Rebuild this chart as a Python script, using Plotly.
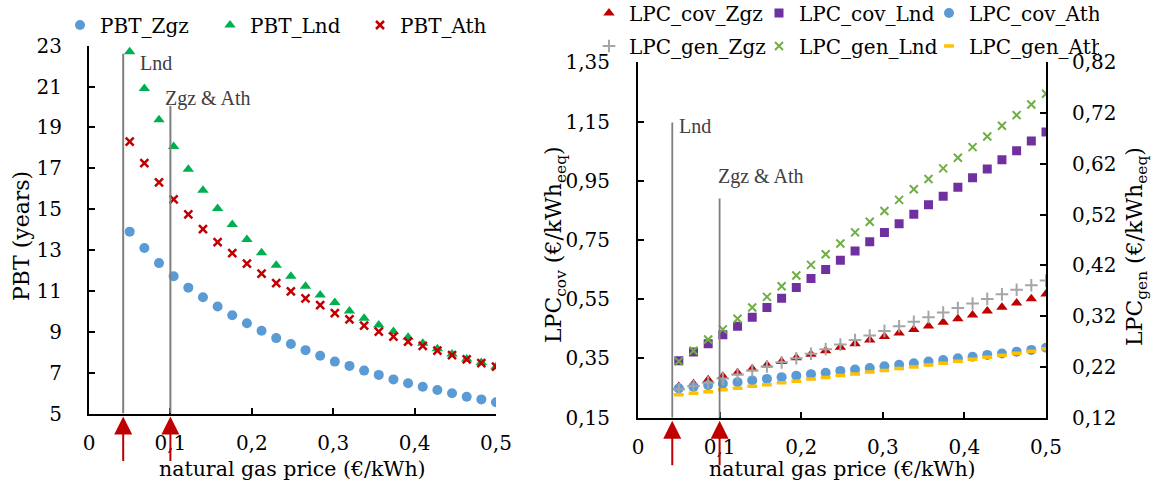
import plotly.graph_objects as go

# ---------------- data ----------------
price = [0.05, 0.068, 0.086, 0.104, 0.122, 0.14, 0.158, 0.176, 0.194, 0.212, 0.23, 0.248, 0.266,
         0.284, 0.302, 0.32, 0.338, 0.356, 0.374, 0.392, 0.41, 0.428, 0.446, 0.464, 0.482, 0.5]

pbt_zgz = [13.9, 13.1, 12.36, 11.72, 11.16, 10.69, 10.24, 9.81, 9.42, 9.05, 8.69, 8.4, 8.1,
           7.83, 7.54, 7.33, 7.1, 6.89, 6.67, 6.48, 6.31, 6.15, 5.99, 5.82, 5.69, 5.55]
pbt_lnd = [22.7, 20.9, 19.38, 18.07, 16.95, 15.93, 15.03, 14.25, 13.51, 12.87, 12.25, 11.72, 11.23,
           10.8, 10.43, 10.02, 9.66, 9.33, 9.01, 8.73, 8.44, 8.17, 7.91, 7.67, 7.49, 7.29]
pbt_ath = [18.3, 17.25, 16.31, 15.48, 14.74, 14.02, 13.39, 12.85, 12.33, 11.84, 11.38, 10.98, 10.64,
           10.3, 9.91, 9.61, 9.3, 9.01, 8.76, 8.52, 8.31, 8.08, 7.86, 7.65, 7.46, 7.29]

lpc_cov_zgz = [0.255, 0.265, 0.278, 0.29, 0.302, 0.315, 0.328, 0.34, 0.352, 0.364, 0.376, 0.388, 0.4,
               0.412, 0.424, 0.436, 0.448, 0.46, 0.472, 0.484, 0.497, 0.51, 0.523, 0.537, 0.552, 0.568]
lpc_cov_lnd = [0.342, 0.372, 0.40, 0.43, 0.459, 0.489, 0.522, 0.553, 0.59, 0.62, 0.65, 0.682, 0.713,
               0.744, 0.775, 0.805, 0.837, 0.869, 0.898, 0.928, 0.96, 0.99, 1.021, 1.051, 1.084, 1.115]
lpc_cov_ath = [0.249, 0.254, 0.26, 0.265, 0.27, 0.276, 0.281, 0.287, 0.292, 0.297, 0.302, 0.308, 0.313,
               0.318, 0.324, 0.329, 0.334, 0.34, 0.345, 0.351, 0.356, 0.362, 0.367, 0.373, 0.379, 0.386]
lpc_gen_zgz = [0.176, 0.182, 0.189, 0.197, 0.205, 0.213, 0.221, 0.229, 0.237, 0.246, 0.255, 0.264, 0.273,
               0.282, 0.291, 0.3, 0.309, 0.318, 0.327, 0.336, 0.345, 0.354, 0.363, 0.372, 0.381, 0.39]
lpc_gen_lnd = [0.231, 0.252, 0.274, 0.294, 0.315, 0.337, 0.358, 0.379, 0.40, 0.421, 0.442, 0.463, 0.485,
               0.506, 0.527, 0.549, 0.57, 0.59, 0.611, 0.632, 0.653, 0.674, 0.695, 0.716, 0.737, 0.758]
lpc_gen_ath = [0.165, 0.168, 0.171, 0.175, 0.178, 0.182, 0.185, 0.189, 0.192, 0.196, 0.199, 0.203, 0.206,
               0.21, 0.213, 0.217, 0.22, 0.224, 0.227, 0.231, 0.235, 0.239, 0.243, 0.247, 0.251, 0.256]

# reference gas prices (Lnd, Zgz & Ath) and the heights of their marker lines
ref_labels = ["Lnd", "Zgz & Ath"]
ref_prices = [0.042, 0.1]
ref_top_pbt = [22.6, 20.05]
ref_top_lpc = [1.147, 0.89]

# ---------------- layout geometry (pixels) ----------------
W, H = 1153, 486
L_X0, L_X1, L_YT, L_YB = 89, 496, 45.7, 413.5
R_X0, R_X1, R_YT, R_YB = 638, 1046, 62.3, 417.7

def px(x):
    return x / W

def py(y):
    return 1 - y / H

FONT = "DejaVu Serif"
FS = 20
BLACK = "#000000"

fig = go.Figure()

# left chart
fig.add_trace(go.Scatter(x=price, y=pbt_zgz, mode="markers", name="PBT_Zgz",
                         marker=dict(symbol="circle", size=10, color="#5B9BD5"),
                         xaxis="x", yaxis="y", legend="legend"))
fig.add_trace(go.Scatter(x=price, y=pbt_lnd, mode="markers", name="PBT_Lnd",
                         marker=dict(symbol="triangle-up", size=10, color="#00B050"),
                         xaxis="x", yaxis="y", legend="legend"))
fig.add_trace(go.Scatter(x=price, y=pbt_ath, mode="markers", name="PBT_Ath",
                         marker=dict(symbol="x-thin", size=8, color="#C00000",
                                     line=dict(width=2.5, color="#C00000")),
                         xaxis="x", yaxis="y", legend="legend"))

# right chart, primary axis
fig.add_trace(go.Scatter(x=price, y=lpc_cov_zgz, mode="markers", name="LPC_cov_Zgz",
                         marker=dict(symbol="triangle-up", size=10, color="#C00000"),
                         xaxis="x2", yaxis="y2", legend="legend2"))
fig.add_trace(go.Scatter(x=price, y=lpc_cov_lnd, mode="markers", name="LPC_cov_Lnd",
                         marker=dict(symbol="square", size=9, color="#7030A0"),
                         xaxis="x2", yaxis="y2", legend="legend2"))
fig.add_trace(go.Scatter(x=price, y=lpc_cov_ath, mode="markers", name="LPC_cov_Ath",
                         marker=dict(symbol="circle", size=10, color="#5B9BD5"),
                         xaxis="x2", yaxis="y2", legend="legend2"))
# right chart, secondary axis
fig.add_trace(go.Scatter(x=price, y=lpc_gen_zgz, mode="markers", name="LPC_gen_Zgz",
                         marker=dict(symbol="cross-thin", size=9, color="#A5A5A5",
                                     line=dict(width=2, color="#A5A5A5")),
                         xaxis="x2", yaxis="y3", legend="legend3"))
fig.add_trace(go.Scatter(x=price, y=lpc_gen_lnd, mode="markers", name="LPC_gen_Lnd",
                         marker=dict(symbol="x-thin", size=8, color="#70AD47",
                                     line=dict(width=2, color="#70AD47")),
                         xaxis="x2", yaxis="y3", legend="legend3"))
fig.add_trace(go.Scatter(x=price, y=lpc_gen_ath, mode="markers", name="LPC_gen_Ath",
                         marker=dict(symbol="line-ew", size=7, color="#FFC000",
                                     line=dict(width=3.5, color="#FFC000")),
                         xaxis="x2", yaxis="y3", legend="legend3"))

axis_common = dict(showline=True, linecolor=BLACK, linewidth=2, ticks="inside", ticklen=6,
                   tickwidth=2, tickcolor=BLACK, showgrid=False, zeroline=False,
                   automargin=False,
                   tickfont=dict(family=FONT, size=FS, color=BLACK))

legend_common = dict(orientation="h", xanchor="left", yanchor="middle",
                     entrywidthmode="pixels", bgcolor="rgba(0,0,0,0)",
                     font=dict(family=FONT, size=FS, color=BLACK))

fig.update_layout(
    width=W, height=H, autosize=False,
    margin=dict(l=0, r=0, t=0, b=0, pad=0, autoexpand=False),
    paper_bgcolor="white", plot_bgcolor="white",
    separators=", ",
    font=dict(family=FONT, size=FS, color=BLACK),
    xaxis=dict(domain=[px(L_X0), px(L_X1)], range=[0, 0.5], dtick=0.1, tick0=0,
               anchor="y", ticklabelstandoff=10, **axis_common),
    yaxis=dict(domain=[py(L_YB), py(L_YT)], range=[5, 23], dtick=2, tick0=5,
               anchor="x", ticklabelstandoff=21, **axis_common),
    xaxis2=dict(domain=[px(R_X0), px(R_X1)], range=[0, 0.5], dtick=0.1, tick0=0,
                anchor="y2", ticklabelstandoff=10, **axis_common),
    yaxis2=dict(domain=[py(R_YB), py(R_YT)], range=[0.15, 1.35], dtick=0.2, tick0=0.15,
                tickformat=".2f", anchor="x2", ticklabelstandoff=22, **axis_common),
    yaxis3=dict(range=[0.12, 0.82], dtick=0.1, tick0=0.12, tickformat=".2f",
                overlaying="y2", side="right", anchor="x2", ticklabelstandoff=20, **axis_common),
    legend=dict(x=px(60), y=py(25), entrywidth=105, **legend_common),
    legend2=dict(x=px(589), y=py(13), entrywidth=125, **legend_common),
    legend3=dict(x=px(589), y=py(46), entrywidth=125, **legend_common),
)

# reference price lines
for p, tp, tr in zip(ref_prices, ref_top_pbt, ref_top_lpc):
    fig.add_shape(type="line", xref="x", yref="y", x0=p, x1=p, y0=5, y1=tp,
                  line=dict(color="#7F7F7F", width=2))
    fig.add_shape(type="line", xref="x2", yref="y2", x0=p, x1=p, y0=0.15, y1=tr,
                  line=dict(color="#7F7F7F", width=1.8))

LBL_FONT = dict(family="Liberation Serif", size=20, color="#404040")
# labels on the left chart
fig.add_annotation(x=ref_prices[0], y=ref_top_pbt[0], xref="x", yref="y", text=ref_labels[0],
                   showarrow=False, xanchor="left", yanchor="middle", xshift=15, yshift=-9,
                   font=LBL_FONT)
fig.add_annotation(x=ref_prices[1], y=ref_top_pbt[1], xref="x", yref="y", text=ref_labels[1],
                   showarrow=False, xanchor="left", yanchor="middle", xshift=-7, yshift=7,
                   font=LBL_FONT)
# labels on the right chart
fig.add_annotation(x=ref_prices[0], y=ref_top_lpc[0], xref="x2", yref="y2", text=ref_labels[0],
                   showarrow=False, xanchor="left", yanchor="middle", xshift=5, yshift=-4,
                   font=LBL_FONT)
fig.add_annotation(x=ref_prices[1], y=ref_top_lpc[1], xref="x2", yref="y2", text=ref_labels[1],
                   showarrow=False, xanchor="left", yanchor="middle", xshift=-4, yshift=22,
                   font=LBL_FONT)

# red arrows under the axes
for p in ref_prices:
    for xr, yr, y0 in (("x", "y", 5), ("x2", "y2", 0.15)):
        fig.add_annotation(x=p, y=y0, xref=xr, yref=yr, text="", showarrow=True,
                           ax=0, ay=49, axref="pixel", ayref="pixel", standoff=3,
                           arrowhead=2, arrowsize=1.8, arrowwidth=2, arrowcolor="#C00000")

# axis titles
XT_FONT = dict(family=FONT, size=20.5, color=BLACK)
YT_FONT = dict(family=FONT, size=22, color=BLACK)
fig.add_annotation(x=px((L_X0 + L_X1) / 2), y=py(469), xref="paper", yref="paper",
                   text="natural gas price (€/kWh)", showarrow=False, font=XT_FONT,
                   xanchor="center", yanchor="middle")
fig.add_annotation(x=px((R_X0 + R_X1) / 2), y=py(469), xref="paper", yref="paper",
                   text="natural gas price (€/kWh)", showarrow=False, font=XT_FONT,
                   xanchor="center", yanchor="middle")
fig.add_annotation(x=px(21), y=py(236), xref="paper", yref="paper", text="PBT (years)",
                   showarrow=False, textangle=-90, font=YT_FONT,
                   xanchor="center", yanchor="middle")
fig.add_annotation(x=px(555), y=py(245), xref="paper", yref="paper",
                   text="LPC<sub>cov</sub> (€/kWh<sub>eeq</sub>)",
                   showarrow=False, textangle=-90, font=YT_FONT,
                   xanchor="center", yanchor="middle")
fig.add_annotation(x=px(1137), y=py(247), xref="paper", yref="paper",
                   text="LPC<sub>gen</sub> (€/kWh<sub>eeq</sub>)",
                   showarrow=False, textangle=-90, font=YT_FONT,
                   xanchor="center", yanchor="middle")

fig.write_html("out.html")
